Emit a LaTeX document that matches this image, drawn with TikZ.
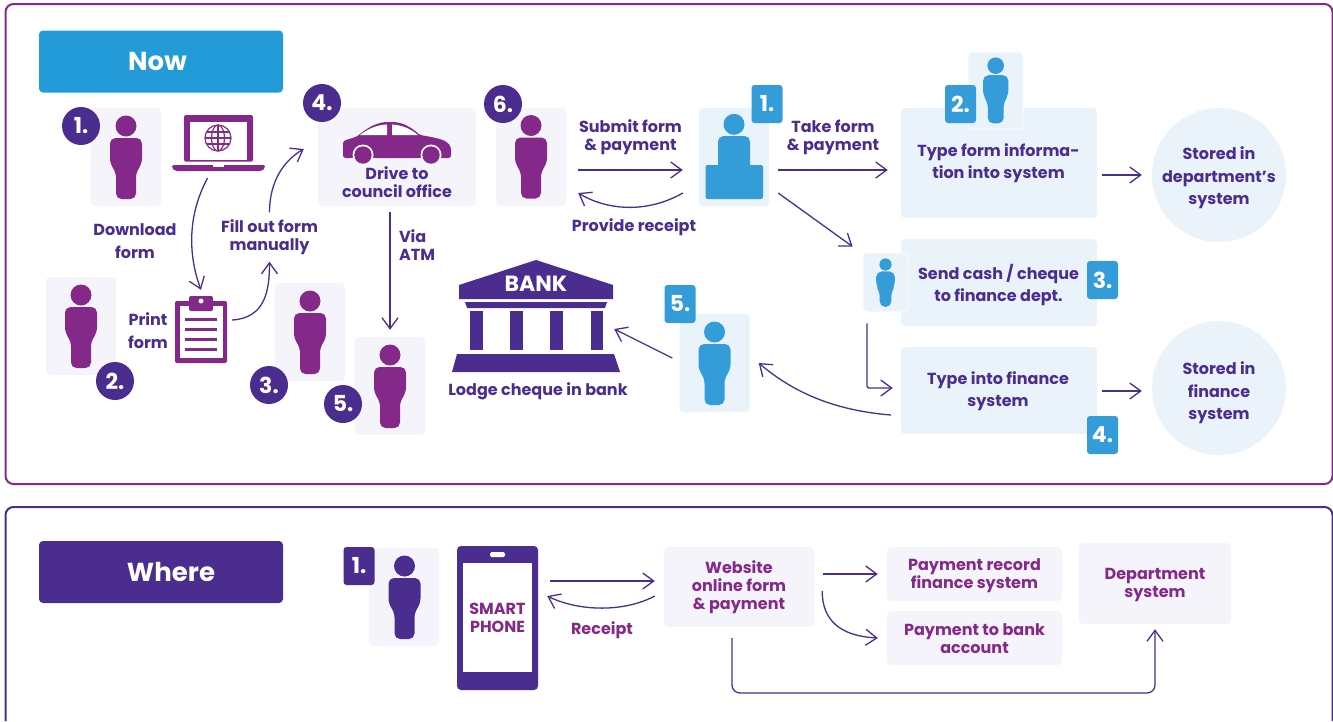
\documentclass[tikz,border=0pt]{standalone}
\usepackage{fontspec}
\setmainfont{Poppins}
\usetikzlibrary{arrows.meta,calc}
\definecolor{purp}{HTML}{84298A}
\definecolor{indi}{HTML}{4A2D8F}
\definecolor{blu}{HTML}{339CD9}
\definecolor{nowb}{HTML}{239BD8}
\definecolor{lav}{HTML}{F5F4FA}
\definecolor{pale}{HTML}{EAF3FA}
\newcommand{\labfont}{\fontsize{16}{18}\selectfont\bfseries}
\newcommand{\labwide}{\fontsize{16}{22.3}\selectfont\bfseries}
\tikzset{
  x=1pt,y=-1pt,
  lab/.style={align=center,inner sep=0pt,font=\labfont,text=indi},
  labp/.style={lab,text=purp},
  labw/.style={lab,font=\labwide},
  lavbox/.style={fill=lav,rounded corners=4pt,inner sep=0pt},
  palebox/.style={fill=pale,rounded corners=4pt,inner sep=0pt},
  ghost/.style={inner sep=0pt},
  header/.style={rounded corners=4pt,inner sep=0pt,minimum width=244pt,minimum height=62pt,text=white,font=\fontsize{26}{26}\selectfont\bfseries},
  round badge/.style={circle,fill=indi,text=white,inner sep=0pt,minimum size=38pt,font=\fontsize{22}{22}\selectfont\bfseries},
  sq badge/.style={fill=blu,text=white,rounded corners=3pt,inner sep=0pt,minimum width=31pt,minimum height=38pt,font=\fontsize{22}{22}\selectfont\bfseries},
  sq dark/.style={sq badge,fill=indi},
  arr/.style={draw=indi,line width=1.3pt,-{Straight Barb[length=11pt,width=16pt,line width=1.3pt]}},
  pics/person/.style={code={
    \fill[#1] (0,0) circle[radius=10.5];
    \fill[#1,rounded corners=5.5] (-16,12) -- (16,12) -- (16,38) -- (10,46) -- (10,73) -- (-10,73) -- (-10,46) -- (-16,38) -- cycle;
  }},
}
\begin{document}
\begin{tikzpicture}
\useasboundingbox (0,0) rectangle (1333,721);
\clip (0,0) rectangle (1333,721);
% panels
\draw[purp,line width=2pt,rounded corners=8pt] (5.5,4) rectangle (1332.5,484);
\draw[indi,line width=2pt,rounded corners=8pt] (5.5,721) -- (5.5,507) -- (1332.5,507) -- (1332.5,721);
% headers
\node[header,fill=nowb] (now) at (161,61.5) {\hspace*{-7pt}Now};
\node[header,fill=indi] (where) at (161,572) {\hspace*{20pt}Where};

% tiles
\node[lavbox,minimum width=70pt,minimum height=98pt] (t1) at (126,157) {};
\node[lavbox,minimum width=70pt,minimum height=98pt] (t2) at (81,326) {};
\node[lavbox,minimum width=70pt,minimum height=98pt] (t3) at (310,332) {};
\node[lavbox,minimum width=70pt,minimum height=98pt] (t5) at (390,386) {};
\node[lavbox,minimum width=70pt,minimum height=98pt] (t6) at (531,157) {};
\node[lavbox,minimum width=158pt,minimum height=98pt] (drive) at (397,157) {};
\node[palebox,minimum width=70pt,minimum height=98pt] (clerk) at (734,157) {};
\node[palebox,minimum width=70pt,minimum height=98pt] (bl5) at (714.5,363) {};
\node[palebox,minimum width=196pt,minimum height=110pt] (typeform) at (999,163) {};
\node[palebox,minimum width=196pt,minimum height=87pt] (send) at (999,282.5) {};
\node[palebox,minimum width=196pt,minimum height=87pt] (typefin) at (999,390.5) {};
\node[palebox,draw=white,line width=.8pt,minimum width=55pt,minimum height=77pt] (tb2) at (995.5,90.5) {};
\node[palebox,draw=white,line width=.8pt,minimum width=45pt,minimum height=59pt] (tb3) at (885.5,282.5) {};
\node[circle,fill=pale,inner sep=0pt,minimum size=134pt] (stored1) at (1219,175) {};
\node[circle,fill=pale,inner sep=0pt,minimum size=134pt] (stored2) at (1219,388) {};
\node[labw] (lst1) at (1219,178) {Stored in\\department’s\\system};
\node[labw] (lst2) at (1219,393) {Stored in\\finance\\system};

% people
\pic at (126,126) {person=purp};
\pic at (81,295) {person=purp};
\pic at (310,301) {person=purp};
\pic at (390,355) {person=purp};
\pic at (531,125.5) {person=purp};
\pic at (714.5,332) {person=blu};
\pic[scale=.79] at (995.7,65.7) {person=blu};
\pic[scale=.58] at (885.5,264.5) {person=blu};
% clerk
\fill[blu] (734,124.3) circle[radius=10.5];
\fill[blu,rounded corners=5.5] (718,136) -- (750,136) -- (750,172) -- (718,172) -- cycle;
\fill[blu,rounded corners=2] (705.5,165) rectangle (763,199);

% badges
\node[round badge] (c1) at (81,126) {1.};
\node[round badge] (c2) at (115,381) {2.};
\node[round badge] (c3) at (269,385) {3.};
\node[round badge] (c5) at (343,404) {5.};
\node[round badge] (c4) at (322,103) {4.};
\node[round badge] (c6) at (503,104) {6.};
\node[sq badge] (s1) at (767,104) {1.};
\node[sq badge] (s5) at (680,304) {5.};
\node[sq badge] (s2) at (960.5,104) {2.};
\node[sq badge] (s3) at (1102.5,280) {3.};
\node[sq badge] (s4) at (1102.5,435) {4.};

% laptop
\node[ghost,minimum width=93pt,minimum height=56pt] (laptop) at (218.5,143) {};
\fill[purp,rounded corners=1.5] (184,115) rectangle (253,161.5);
\fill[white] (190,121.5) rectangle (247,160);
\fill[purp,rounded corners=2] (172,165) -- (265,165) -- (265,168) -- (262,171) -- (175,171) -- (172,168) -- cycle;
\fill[white] (212.5,165) rectangle (224,167);
\begin{scope}[purp,line width=1.2pt]
\draw (218,138) circle[radius=13];
\draw (218,138) ellipse[x radius=6.5,y radius=13];
\draw (218,125) -- (218,151) (205,138) -- (231,138) (206.5,132) -- (229.5,132) (206.5,144) -- (229.5,144);
\end{scope}
% clipboard
\node[ghost,minimum width=52pt,minimum height=67pt] (clip) at (201,329.5) {};
\fill[purp,rounded corners=2] (175,301) rectangle (227,363);
\fill[white] (180,305.5) rectangle (223,358);
\fill[purp,rounded corners=2] (189,296) rectangle (213,311);
\fill[white] (201,301) circle[radius=2.5];
\foreach \yy in {319,329,339,349} \fill[purp] (185,\yy-1.5) rectangle (217,\yy+1.5);
% car
\fill[purp,rounded corners=2.5] (343,158) -- (343,141) -- (357,136.5) .. controls (366,129) and (376,122) .. (390,122) .. controls (403,122) and (412,128) .. (420,135) .. controls (432,137) and (442,139) .. (448,143) -- (451,147) -- (451,158) -- cycle;
\fill[white] (360,135) .. controls (368,129) and (376,125) .. (387,124.5) -- (387,135) -- cycle;
\fill[white] (392,124.5) .. controls (402,125) and (411,129) .. (418,135) -- (392,135) -- cycle;
\fill[white] (363,155) circle[radius=10.5];
\fill[white] (431,155) circle[radius=10.5];
\fill[lav] (350,158) rectangle (376,167);
\fill[lav] (418,158) rectangle (444,167);
\fill[purp] (363,155) circle[radius=8.7];
\fill[purp] (431,155) circle[radius=8.7];
% bank
\node[ghost,minimum width=168pt,minimum height=112pt] (bank) at (536,316) {};
\fill[indi] (536,260) -- (613,285) -- (613,299) -- (459,299) -- (459,285) -- cycle;
\fill[indi] (465,302) -- (607,302) -- (605,308) -- (467,308) -- cycle;
\foreach \xx in {470,510,550,590.5} \fill[indi] (\xx,311) rectangle (\xx+12.8,350);
\fill[indi] (457,354) -- (614,354) -- (620,372) -- (452,372) -- cycle;
\node[inner sep=0pt,text=white,font=\fontsize{22}{22}\selectfont\bfseries] (banktxt) at (536,284) {BANK};

% labels top
\node[labw] (ldown) at (135,241) {Download\\form};
\node[lab] (lfill) at (269.5,237) {Fill out form\\manually};
\node[labw] (lprint) at (148,330.5) {Print\\form};
\node[lab] (ldrive) at (397,182) {Drive to\\council office};
\node[lab,align=left] (lvia) at (417,245) {Via\\ATM};
\node[lab] (lsub) at (630.5,137.5) {Submit form\\\& payment};
\node[lab] (lrec) at (634,227) {Provide receipt};
\node[lab] (ltake) at (833,137.5) {Take form\\\& payment};
\node[lab] (lbank) at (538,391) {Lodge cheque in bank};
\node[labw] (ltype) at (998.5,163) {Type form informa-\\tion into system};
\node[labw] (lsend) at (998.5,285) {Send cash / cheque\\to finance dept.};
\node[labw] (lfin) at (998,391) {Type into finance\\system};

% arrows top
\draw[arr] ([xshift=-11pt,yshift=-7pt]laptop.south) .. controls +(-20,37) and +(-13,-35) .. ([yshift=6pt]clip.north);
\draw[arr] ([xshift=5pt,yshift=9.5pt]clip.east) .. controls +(33,-2) and +(0,29) .. ([yshift=-7pt]lfill.south);
\draw[arr] ([yshift=7pt]lfill.north) .. controls +(0,-32) and +(-19,11) .. ([xshift=-14pt,yshift=8pt]drive.west);
\draw[arr] ([xshift=-7pt,yshift=-6pt]drive.south) -- ([yshift=7pt]t5.north);
\draw[arr] ([xshift=12pt,yshift=-13pt]t6.east) -- ([xshift=-16pt,yshift=-13pt]clerk.west);
\draw[arr] ([xshift=-16pt,yshift=-36pt]clerk.west) .. controls +(-33,19) and +(32,19) .. ([xshift=12pt,yshift=-36pt]t6.east);
\draw[arr] ([xshift=9pt,yshift=-13pt]clerk.east) -- ([xshift=-13pt,yshift=-7pt]typeform.west);
\draw[arr] ([xshift=9pt,yshift=-36pt]clerk.east) -- ([xshift=-10pt,yshift=6pt]tb3.north west);
\draw[arr,rounded corners=2pt] ([xshift=-18.5pt,yshift=-11pt]tb3.south) -- (867,388) -- ([xshift=-8pt,yshift=2.5pt]typefin.west);
\draw[arr] ([xshift=-10pt,yshift=-24.5pt]typefin.west) .. controls +(-61,-5) and +(32,27) .. ([xshift=9pt]bl5.east);
\draw[arr] ([xshift=-7pt,yshift=5pt]bl5.west) -- ([xshift=-6pt,yshift=-13pt]bank.east);
\draw[arr] ([xshift=5pt,yshift=-12pt]typeform.east) -- ([xshift=-10pt]stored1.west);
\draw[arr] ([xshift=5pt,yshift=-.5pt]typefin.east) -- ([xshift=-10pt,yshift=-3pt]stored2.west);

% WHERE panel
\node[lavbox,minimum width=70pt,minimum height=98pt] (wt) at (404,597) {};
\pic at (404.5,566) {person=indi};
\node[sq dark] (w1) at (359,566) {1.};
\node[fill=indi,rounded corners=4pt,inner sep=0pt,minimum width=81pt,minimum height=144pt] (phone) at (497.5,618) {};
\fill[white] (463,563) rectangle (532,672);
\fill[white,rounded corners=1.5] (490,552) rectangle (505,557);
\node[labp] (lsmart) at (497.5,618) {SMART\\PHONE};
\node[lavbox,minimum width=150pt,minimum height=80pt,align=center,font=\labfont,text=purp] (web) at (739,587) {Website\\online form\\\& payment};
\node[lavbox,minimum width=175pt,minimum height=54pt] (pr) at (974.5,574) {};
\node[lavbox,minimum width=175pt,minimum height=54pt] (pb) at (974.5,638) {};
\node[lavbox,minimum width=152pt,minimum height=81pt] (dept) at (1155,583.5) {};
\node[labp] (lpr) at (974.5,575.5) {Payment record\\finance system};
\node[labp] (lpb) at (974.5,639) {Payment to bank\\account};
\node[labp] (ldept) at (1155,584.5) {Department\\system};
\node[labp] (lreceipt) at (602,630) {Receipt};
\draw[arr] ([xshift=12pt,yshift=37pt]phone.east) -- ([xshift=-9pt,yshift=6pt]web.west);
\draw[arr] ([xshift=-9pt,yshift=-9pt]web.west) .. controls +(-30,16) and +(33,16) .. ([xshift=9pt,yshift=22pt]phone.east);
\draw[arr] ([xshift=9pt]web.north east |- pr.west) -- ([xshift=-9pt]pr.west);
\draw[arr] ([xshift=8pt,yshift=-4pt]web.east) .. controls +(0,29) and +(-38,-2) .. ([xshift=-9pt]pb.west);
\draw[arr,rounded corners=8pt] ([xshift=-7pt,yshift=-11pt]web.south) -- (732,693) -- (1155,693) -- ([yshift=-5pt]dept.south);
\end{tikzpicture}
\end{document}
